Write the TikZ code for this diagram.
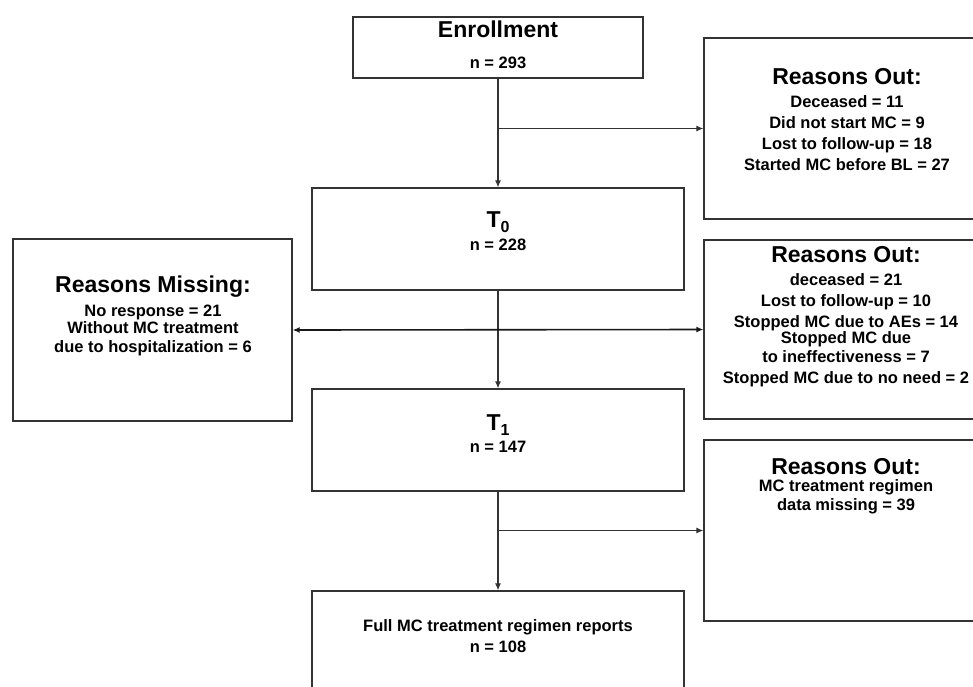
\documentclass[tikz,border=0pt]{standalone}
\usepackage{fontspec}
\setmainfont{Liberation Sans}
\usetikzlibrary{arrows.meta}
\tikzset{
  box/.style={draw=black!80, line width=1.3pt, rectangle, inner sep=0pt, fill=white},
  conn/.style={draw=black!80, line width=1.1pt, -{Latex[length=7pt,width=6pt]}},
  dconn/.style={draw=black!90, line width=1.6pt, {Latex[length=7pt,width=6pt]}-{Latex[length=7pt,width=6pt]}},
  title/.style={font=\bfseries\fontsize{23}{26}\selectfont, inner sep=0pt},
  body/.style={font=\bfseries\fontsize{16.5}{21}\selectfont, align=center, inner sep=0pt},
}
\begin{document}
\begin{tikzpicture}[x=1pt,y=-1pt]
\useasboundingbox (0,0) rectangle (973,686);
\fill[white] (0,0) rectangle (973,686);
\clip (0,0) rectangle (973,686);
% boxes
\node[box, minimum width=290pt, minimum height=61pt] (enr) at (498,47.5) {};
\node[box, minimum width=372pt, minimum height=102pt] (t0) at (498,239) {};
\node[box, minimum width=372pt, minimum height=102pt] (t1) at (498,440) {};
\node[box, minimum width=372pt, minimum height=130pt] (full) at (498,656) {};
\node[box, minimum width=286pt, minimum height=181pt] (out1) at (847,128.5) {};
\node[box, minimum width=286pt, minimum height=179pt] (out2) at (847,329.5) {};
\node[box, minimum width=286pt, minimum height=181pt] (out3) at (847,530.5) {};
\node[box, minimum width=279pt, minimum height=182pt] (miss) at (152.5,330) {};
% texts
\node[title] (enrT) at (498,29) {Enrollment};
\node[body] (enrN) at (498,63) {n = 293};
\node[title] (t0T) at (498,222) {T\raisebox{-5pt}{\fontsize{16}{16}\selectfont 0}};
\node[body] (t0N) at (498,245) {n = 228};
\node[title] (t1T) at (498,425) {T\raisebox{-5pt}{\fontsize{16}{16}\selectfont 1}};
\node[body] (t1N) at (498,447) {n = 147};
\node[body] (fullB) at (498,636.5) {Full MC treatment regimen reports\\n = 108};
\node[title] (o1T) at (847,77) {Reasons Out:};
\node[body] (o1B) at (847,133.5) {Deceased = 11\\Did not start MC = 9\\Lost to follow-up = 18\\Started MC before BL = 27};
\node[title] (o2T) at (846,255) {Reasons Out:};
\node[body] (o2B) at (846,330.5) {deceased = 21\\Lost to follow-up = 10\\Stopped MC due to AEs = 14\\[-5pt]Stopped MC due\\[-2pt]to ineffectiveness = 7\\Stopped MC due to no need = 2};
\node[title] (o3T) at (846,467) {Reasons Out:};
\node[body, font=\bfseries\fontsize{16.5}{19}\selectfont] (o3B) at (846,496.5) {MC treatment regimen\\data missing = 39};
\node[title] (mT) at (153,287) {Reasons Missing:};
\node[body, font=\bfseries\fontsize{16.5}{19}\selectfont] (mB) at (153,330.5) {No response = 21\\[-2pt]Without MC treatment\\due to hospitalization = 6};
% connectors
\coordinate (b1) at (enr.south |- out1.west);
\coordinate (b3) at (t1.south |- out3.west);
\draw[conn] (enr.south) -- (t0.north);
\draw[conn] (b1) -- (out1.west);
\draw[conn] (t0.south) -- (t1.north);
\draw[dconn] (miss.east) -- (out2.west);
\draw[conn] (t1.south) -- (full.north);
\draw[conn] (b3) -- (out3.west);
\end{tikzpicture}
\end{document}
